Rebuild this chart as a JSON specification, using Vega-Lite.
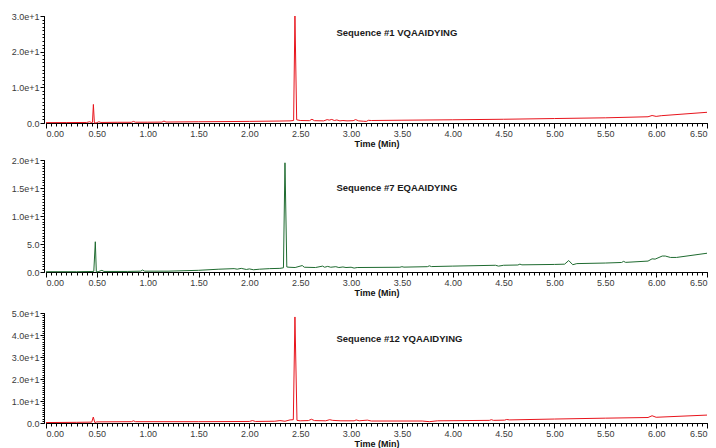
{
  "$schema": "https://vega.github.io/schema/vega-lite/v6.json",
  "background": "white",
  "padding": {"left": 11, "top": 12, "right": 0, "bottom": 0},
  "config": {
    "font": "Liberation Sans",
    "view": {"stroke": null},
    "axis": {"grid": false, "domainColor": "black", "tickColor": "black", "labelColor": "#3a3a3a", "labelFont": "Liberation Sans", "labelFontSize": 9, "titleFont": "Liberation Sans", "titleFontSize": 9, "titleFontWeight": "bold", "titleColor": "#111111", "domainWidth": 1, "tickWidth": 1}
  },
  "data": {"values": [
    {"s":1,"t":0.0,"v":0.1},{"s":1,"t":0.2,"v":0.12},{"s":1,"t":0.4,"v":0.15},{"s":1,"t":0.43,"v":0.35},{"s":1,"t":0.445,"v":0.15},{"s":1,"t":0.457,"v":0.15},{"s":1,"t":0.466,"v":5.2},{"s":1,"t":0.476,"v":0.0},{"s":1,"t":0.49,"v":0.05},{"s":1,"t":0.5,"v":0.1},{"s":1,"t":0.52,"v":0.35},{"s":1,"t":0.54,"v":0.15},{"s":1,"t":0.7,"v":0.2},{"s":1,"t":0.84,"v":0.2},{"s":1,"t":0.86,"v":0.45},{"s":1,"t":0.88,"v":0.22},{"s":1,"t":1.0,"v":0.22},{"s":1,"t":1.14,"v":0.25},{"s":1,"t":1.16,"v":0.55},{"s":1,"t":1.18,"v":0.27},{"s":1,"t":1.5,"v":0.35},{"s":1,"t":2.0,"v":0.45},{"s":1,"t":2.3,"v":0.55},{"s":1,"t":2.4,"v":0.6},{"s":1,"t":2.435,"v":0.7},{"s":1,"t":2.448,"v":30.0},{"s":1,"t":2.465,"v":0.9},{"s":1,"t":2.5,"v":0.7},{"s":1,"t":2.59,"v":0.65},{"s":1,"t":2.615,"v":1.05},{"s":1,"t":2.64,"v":0.65},{"s":1,"t":2.73,"v":0.6},{"s":1,"t":2.765,"v":0.95},{"s":1,"t":2.785,"v":0.8},{"s":1,"t":2.81,"v":1.0},{"s":1,"t":2.835,"v":0.7},{"s":1,"t":2.86,"v":0.85},{"s":1,"t":2.89,"v":0.6},{"s":1,"t":2.92,"v":0.7},{"s":1,"t":2.96,"v":0.6},{"s":1,"t":3.02,"v":0.65},{"s":1,"t":3.045,"v":0.95},{"s":1,"t":3.075,"v":0.6},{"s":1,"t":3.12,"v":0.5},{"s":1,"t":3.15,"v":0.45},{"s":1,"t":3.17,"v":0.75},{"s":1,"t":3.2,"v":0.7},{"s":1,"t":3.5,"v":0.78},{"s":1,"t":4.0,"v":0.9},{"s":1,"t":4.5,"v":1.05},{"s":1,"t":5.0,"v":1.25},{"s":1,"t":5.5,"v":1.45},{"s":1,"t":5.92,"v":1.75},{"s":1,"t":5.96,"v":2.1},{"s":1,"t":6.0,"v":1.85},{"s":1,"t":6.05,"v":2.05},{"s":1,"t":6.5,"v":3.0},
    {"s":7,"t":0.0,"v":0.05},{"s":7,"t":0.3,"v":0.05},{"s":7,"t":0.47,"v":0.1},{"s":7,"t":0.485,"v":5.4},{"s":7,"t":0.495,"v":0.0},{"s":7,"t":0.52,"v":0.1},{"s":7,"t":0.55,"v":0.3},{"s":7,"t":0.57,"v":0.1},{"s":7,"t":0.8,"v":0.1},{"s":7,"t":0.93,"v":0.15},{"s":7,"t":0.95,"v":0.35},{"s":7,"t":0.97,"v":0.15},{"s":7,"t":1.2,"v":0.15},{"s":7,"t":1.5,"v":0.3},{"s":7,"t":1.7,"v":0.5},{"s":7,"t":1.85,"v":0.6},{"s":7,"t":1.88,"v":0.5},{"s":7,"t":1.92,"v":0.65},{"s":7,"t":1.97,"v":0.45},{"s":7,"t":2.0,"v":0.55},{"s":7,"t":2.04,"v":0.4},{"s":7,"t":2.1,"v":0.5},{"s":7,"t":2.2,"v":0.6},{"s":7,"t":2.3,"v":0.65},{"s":7,"t":2.335,"v":0.75},{"s":7,"t":2.35,"v":19.5},{"s":7,"t":2.368,"v":0.9},{"s":7,"t":2.39,"v":0.85},{"s":7,"t":2.45,"v":0.8},{"s":7,"t":2.52,"v":1.15},{"s":7,"t":2.54,"v":0.85},{"s":7,"t":2.65,"v":0.8},{"s":7,"t":2.72,"v":1.05},{"s":7,"t":2.74,"v":0.85},{"s":7,"t":2.77,"v":1.0},{"s":7,"t":2.8,"v":0.85},{"s":7,"t":2.85,"v":0.95},{"s":7,"t":2.88,"v":0.8},{"s":7,"t":2.92,"v":0.9},{"s":7,"t":2.95,"v":0.8},{"s":7,"t":3.0,"v":0.85},{"s":7,"t":3.03,"v":0.7},{"s":7,"t":3.06,"v":0.8},{"s":7,"t":3.48,"v":0.85},{"s":7,"t":3.5,"v":0.95},{"s":7,"t":3.52,"v":0.87},{"s":7,"t":3.75,"v":0.95},{"s":7,"t":3.77,"v":1.1},{"s":7,"t":3.79,"v":0.97},{"s":7,"t":4.0,"v":1.05},{"s":7,"t":4.42,"v":1.2},{"s":7,"t":4.45,"v":1.05},{"s":7,"t":4.5,"v":1.2},{"s":7,"t":4.64,"v":1.25},{"s":7,"t":4.66,"v":1.4},{"s":7,"t":4.68,"v":1.28},{"s":7,"t":5.0,"v":1.35},{"s":7,"t":5.1,"v":1.4},{"s":7,"t":5.14,"v":2.05},{"s":7,"t":5.18,"v":1.3},{"s":7,"t":5.22,"v":1.5},{"s":7,"t":5.5,"v":1.6},{"s":7,"t":5.66,"v":1.7},{"s":7,"t":5.68,"v":1.9},{"s":7,"t":5.7,"v":1.72},{"s":7,"t":5.92,"v":1.95},{"s":7,"t":5.96,"v":2.35},{"s":7,"t":5.99,"v":2.3},{"s":7,"t":6.06,"v":2.85},{"s":7,"t":6.09,"v":2.85},{"s":7,"t":6.14,"v":2.6},{"s":7,"t":6.2,"v":2.6},{"s":7,"t":6.5,"v":3.35},
    {"s":12,"t":0.0,"v":0.2},{"s":12,"t":0.3,"v":0.3},{"s":12,"t":0.45,"v":0.4},{"s":12,"t":0.465,"v":2.7},{"s":12,"t":0.48,"v":0.2},{"s":12,"t":0.5,"v":0.5},{"s":12,"t":0.84,"v":0.6},{"s":12,"t":0.86,"v":1.0},{"s":12,"t":0.88,"v":0.6},{"s":12,"t":1.5,"v":0.6},{"s":12,"t":2.0,"v":0.7},{"s":12,"t":2.03,"v":1.1},{"s":12,"t":2.06,"v":0.7},{"s":12,"t":2.25,"v":0.8},{"s":12,"t":2.3,"v":1.1},{"s":12,"t":2.35,"v":0.8},{"s":12,"t":2.4,"v":1.4},{"s":12,"t":2.432,"v":1.5},{"s":12,"t":2.448,"v":48.2},{"s":12,"t":2.468,"v":1.2},{"s":12,"t":2.5,"v":1.0},{"s":12,"t":2.58,"v":1.1},{"s":12,"t":2.61,"v":1.7},{"s":12,"t":2.64,"v":1.1},{"s":12,"t":2.75,"v":1.0},{"s":12,"t":2.79,"v":1.5},{"s":12,"t":2.82,"v":1.2},{"s":12,"t":2.9,"v":1.0},{"s":12,"t":3.03,"v":1.0},{"s":12,"t":3.05,"v":1.4},{"s":12,"t":3.08,"v":1.0},{"s":12,"t":3.16,"v":1.3},{"s":12,"t":3.2,"v":0.9},{"s":12,"t":3.7,"v":0.9},{"s":12,"t":3.77,"v":0.6},{"s":12,"t":3.85,"v":1.0},{"s":12,"t":4.36,"v":1.2},{"s":12,"t":4.38,"v":1.5},{"s":12,"t":4.4,"v":1.2},{"s":12,"t":4.51,"v":1.3},{"s":12,"t":4.53,"v":1.6},{"s":12,"t":4.56,"v":1.4},{"s":12,"t":5.0,"v":1.8},{"s":12,"t":5.5,"v":2.2},{"s":12,"t":5.92,"v":2.5},{"s":12,"t":5.96,"v":3.3},{"s":12,"t":6.0,"v":2.6},{"s":12,"t":6.5,"v":3.6}
  ]},
  "bounds": "flush",
  "spacing": 37,
  "vconcat": [
    {
      "width": 661, "height": 107,
      "transform": [{"filter": "datum.s == 1"}],
      "layer": [
        {"mark": {"type": "line", "color": "#e8141c", "strokeWidth": 1},
         "encoding": {
           "x": {"field": "t", "type": "quantitative", "scale": {"domain": [0, 6.5], "nice": false, "zero": false}, "axis": {"orient": "bottom", "values": [0,0.5,1,1.5,2,2.5,3,3.5,4,4.5,5,5.5,6,6.5], "format": ".2f", "tickSize": 5, "labelPadding": 1, "title": "Time (Min)", "titlePadding": 1}},
           "y": {"field": "v", "type": "quantitative", "scale": {"domain": [0, 30], "nice": false}, "axis": {"orient": "left", "offset": 2, "values": [0,10,20,30], "tickSize": 4, "labelPadding": 1, "title": null, "labelExpr": "datum.value >= 10 ? format(datum.value, '.1e') : format(datum.value, '.1f')"}}
         }},
        {"data": {"values": [{}]},
         "mark": {"type": "text", "align": "left", "baseline": "middle", "fontWeight": "bold", "fontSize": 9.5, "color": "#1a1a1a"},
         "encoding": {
           "x": {"datum": 2.856, "type": "quantitative", "axis": {"orient": "bottom", "values": [0,0.05,0.1,0.15,0.2,0.25,0.3,0.35,0.4,0.45,0.5,0.55,0.6,0.65,0.7,0.75,0.8,0.85,0.9,0.95,1,1.05,1.1,1.15,1.2,1.25,1.3,1.35,1.4,1.45,1.5,1.55,1.6,1.65,1.7,1.75,1.8,1.85,1.9,1.95,2,2.05,2.1,2.15,2.2,2.25,2.3,2.35,2.4,2.45,2.5,2.55,2.6,2.65,2.7,2.75,2.8,2.85,2.9,2.95,3,3.05,3.1,3.15,3.2,3.25,3.3,3.35,3.4,3.45,3.5,3.55,3.6,3.65,3.7,3.75,3.8,3.85,3.9,3.95,4,4.05,4.1,4.15,4.2,4.25,4.3,4.35,4.4,4.45,4.5,4.55,4.6,4.65,4.7,4.75,4.8,4.85,4.9,4.95,5,5.05,5.1,5.15,5.2,5.25,5.3,5.35,5.4,5.45,5.5,5.55,5.6,5.65,5.7,5.75,5.8,5.85,5.9,5.95,6,6.05,6.1,6.15,6.2,6.25,6.3,6.35,6.4,6.45,6.5], "labels": false, "domain": true, "tickSize": 3, "title": null}},
           "y": {"datum": 25.2, "type": "quantitative", "axis": {"orient": "left", "offset": 2, "values": [0,1,2,3,4,5,6,7,8,9,10,11,12,13,14,15,16,17,18,19,20,21,22,23,24,25,26,27,28,29,30], "labels": false, "domain": true, "tickSize": 2, "title": null}},
           "text": {"value": "Sequence #1 VQAAIDYING"}}}
      ],
      "resolve": {"axis": {"x": "independent", "y": "independent"}}
    },
    {
      "bounds": "flush",
      "spacing": 41,
      "vconcat": [
        {
          "width": 661, "height": 112,
          "transform": [{"filter": "datum.s == 7"}],
          "layer": [
            {"mark": {"type": "line", "color": "#1f6b30", "strokeWidth": 1},
             "encoding": {
               "x": {"field": "t", "type": "quantitative", "scale": {"domain": [0, 6.5], "nice": false, "zero": false}, "axis": {"orient": "bottom", "values": [0,0.5,1,1.5,2,2.5,3,3.5,4,4.5,5,5.5,6,6.5], "format": ".2f", "tickSize": 5, "labelPadding": 1, "title": "Time (Min)", "titlePadding": 1}},
               "y": {"field": "v", "type": "quantitative", "scale": {"domain": [0, 20], "nice": false}, "axis": {"orient": "left", "offset": 2, "values": [0,5,10,15,20], "tickSize": 4, "labelPadding": 1, "title": null, "labelExpr": "datum.value >= 10 ? format(datum.value, '.1e') : format(datum.value, '.1f')"}}
             }},
            {"data": {"values": [{}]},
             "mark": {"type": "text", "align": "left", "baseline": "middle", "fontWeight": "bold", "fontSize": 9.5, "color": "#1a1a1a"},
             "encoding": {
               "x": {"datum": 2.856, "type": "quantitative", "axis": {"orient": "bottom", "values": [0,0.05,0.1,0.15,0.2,0.25,0.3,0.35,0.4,0.45,0.5,0.55,0.6,0.65,0.7,0.75,0.8,0.85,0.9,0.95,1,1.05,1.1,1.15,1.2,1.25,1.3,1.35,1.4,1.45,1.5,1.55,1.6,1.65,1.7,1.75,1.8,1.85,1.9,1.95,2,2.05,2.1,2.15,2.2,2.25,2.3,2.35,2.4,2.45,2.5,2.55,2.6,2.65,2.7,2.75,2.8,2.85,2.9,2.95,3,3.05,3.1,3.15,3.2,3.25,3.3,3.35,3.4,3.45,3.5,3.55,3.6,3.65,3.7,3.75,3.8,3.85,3.9,3.95,4,4.05,4.1,4.15,4.2,4.25,4.3,4.35,4.4,4.45,4.5,4.55,4.6,4.65,4.7,4.75,4.8,4.85,4.9,4.95,5,5.05,5.1,5.15,5.2,5.25,5.3,5.35,5.4,5.45,5.5,5.55,5.6,5.65,5.7,5.75,5.8,5.85,5.9,5.95,6,6.05,6.1,6.15,6.2,6.25,6.3,6.35,6.4,6.45,6.5], "labels": false, "domain": true, "tickSize": 3, "title": null}},
               "y": {"datum": 15.0, "type": "quantitative", "axis": {"orient": "left", "offset": 2, "values": [0,0.5,1,1.5,2,2.5,3,3.5,4,4.5,5,5.5,6,6.5,7,7.5,8,8.5,9,9.5,10,10.5,11,11.5,12,12.5,13,13.5,14,14.5,15,15.5,16,16.5,17,17.5,18,18.5,19,19.5,20], "labels": false, "domain": true, "tickSize": 2, "title": null}},
               "text": {"value": "Sequence #7 EQAAIDYING"}}}
          ],
          "resolve": {"axis": {"x": "independent", "y": "independent"}}
        },
        {
          "width": 661, "height": 110,
          "transform": [{"filter": "datum.s == 12"}],
          "layer": [
            {"mark": {"type": "line", "color": "#e8141c", "strokeWidth": 1},
             "encoding": {
               "x": {"field": "t", "type": "quantitative", "scale": {"domain": [0, 6.5], "nice": false, "zero": false}, "axis": {"orient": "bottom", "values": [0,0.5,1,1.5,2,2.5,3,3.5,4,4.5,5,5.5,6,6.5], "format": ".2f", "tickSize": 5, "labelPadding": 1, "title": "Time (Min)", "titlePadding": 1}},
               "y": {"field": "v", "type": "quantitative", "scale": {"domain": [0, 50], "nice": false}, "axis": {"orient": "left", "offset": 2, "values": [0,10,20,30,40,50], "tickSize": 4, "labelPadding": 1, "title": null, "labelExpr": "datum.value >= 10 ? format(datum.value, '.1e') : format(datum.value, '.1f')"}}
             }},
            {"data": {"values": [{}]},
             "mark": {"type": "text", "align": "left", "baseline": "middle", "fontWeight": "bold", "fontSize": 9.5, "color": "#1a1a1a"},
             "encoding": {
               "x": {"datum": 2.856, "type": "quantitative", "axis": {"orient": "bottom", "values": [0,0.05,0.1,0.15,0.2,0.25,0.3,0.35,0.4,0.45,0.5,0.55,0.6,0.65,0.7,0.75,0.8,0.85,0.9,0.95,1,1.05,1.1,1.15,1.2,1.25,1.3,1.35,1.4,1.45,1.5,1.55,1.6,1.65,1.7,1.75,1.8,1.85,1.9,1.95,2,2.05,2.1,2.15,2.2,2.25,2.3,2.35,2.4,2.45,2.5,2.55,2.6,2.65,2.7,2.75,2.8,2.85,2.9,2.95,3,3.05,3.1,3.15,3.2,3.25,3.3,3.35,3.4,3.45,3.5,3.55,3.6,3.65,3.7,3.75,3.8,3.85,3.9,3.95,4,4.05,4.1,4.15,4.2,4.25,4.3,4.35,4.4,4.45,4.5,4.55,4.6,4.65,4.7,4.75,4.8,4.85,4.9,4.95,5,5.05,5.1,5.15,5.2,5.25,5.3,5.35,5.4,5.45,5.5,5.55,5.6,5.65,5.7,5.75,5.8,5.85,5.9,5.95,6,6.05,6.1,6.15,6.2,6.25,6.3,6.35,6.4,6.45,6.5], "labels": false, "domain": true, "tickSize": 3, "title": null}},
               "y": {"datum": 38.3, "type": "quantitative", "axis": {"orient": "left", "offset": 2, "values": [0,1,2,3,4,5,6,7,8,9,10,11,12,13,14,15,16,17,18,19,20,21,22,23,24,25,26,27,28,29,30,31,32,33,34,35,36,37,38,39,40,41,42,43,44,45,46,47,48,49,50], "labels": false, "domain": true, "tickSize": 2, "title": null}},
               "text": {"value": "Sequence #12 YQAAIDYING"}}}
          ],
          "resolve": {"axis": {"x": "independent", "y": "independent"}}
        }
      ]
    }
  ]
}
